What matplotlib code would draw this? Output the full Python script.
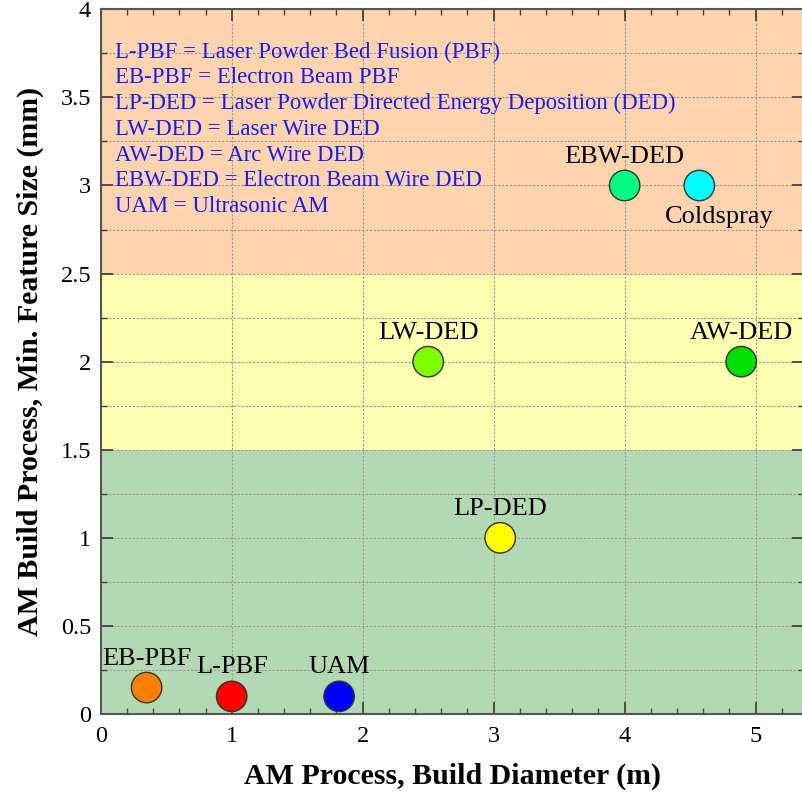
import matplotlib.pyplot as plt
from matplotlib.ticker import MultipleLocator

plt.rcParams['font.family'] = ['Liberation Serif', 'DejaVu Serif']

# process data: build diameter (m) vs minimum feature size (mm)
processes = ['EB-PBF', 'L-PBF', 'UAM', 'LP-DED', 'LW-DED', 'AW-DED', 'EBW-DED', 'Coldspray']
diameter = [0.35, 1.0, 1.82, 3.05, 2.5, 4.89, 4.0, 4.57]
feature = [0.15, 0.1, 0.1, 1.0, 2.0, 2.0, 3.0, 3.0]
colors = ['#ff8000', '#ff0000', '#0000ff', '#ffff00', '#80ff00', '#00e000', '#00ff80', '#00ffff']

# label offsets in points (dx, dy) to the text baseline
label_offsets = [(0, 16.5), (0, 16.5), (0, 16.5), (0, 16.5), (0, 16.5), (0, 16.5), (0, 16.5), (14.5, -27)]

# shaded bands of feature size
bands = [(0, 1.5, '#b3d9b3'), (1.5, 2.5, '#ffffb0'), (2.5, 4.0, '#fdd4ac')]

abbrevs = [
    'L-PBF = Laser Powder Bed Fusion (PBF)',
    'EB-PBF = Electron Beam PBF',
    'LP-DED = Laser Powder Directed Energy Deposition (DED)',
    'LW-DED = Laser Wire DED',
    'AW-DED = Arc Wire DED',
    'EBW-DED = Electron Beam Wire DED',
    'UAM = Ultrasonic AM',
]

fig = plt.figure(figsize=(8.02, 7.98), dpi=100)
ax = fig.add_axes([0.1256, 0.1053, 0.877, 0.883])

for lo, hi, c in bands:
    ax.axhspan(lo, hi, color=c, zorder=0, lw=0)

ax.set_xlim(0, 5.37)
ax.set_ylim(0, 4)
ax.xaxis.set_major_locator(MultipleLocator(1))
ax.xaxis.set_minor_locator(MultipleLocator(0.2))
ax.yaxis.set_minor_locator(MultipleLocator(0.25))
ax.set_yticks([0, 0.5, 1, 1.5, 2, 2.5, 3, 3.5, 4])
ax.set_yticklabels(['0', '0.5', '1', '1.5', '2', '2.5', '3', '3.5', '4'])

ax.grid(True, which='major', axis='x', ls=(0, (2, 1.5)), color='#9a9a9a', lw=0.8)
ax.grid(True, which='both', axis='y', ls=(0, (2, 1.5)), color='#9a9a9a', lw=0.8)
ax.set_axisbelow(True)

ax.tick_params(which='both', direction='in', top=True, right=True, labelsize=17.5,
               color='#444444')
ax.tick_params(which='major', length=8.5, width=1.3)
ax.tick_params(which='minor', length=4.5, width=1)
ax.tick_params(axis='x', pad=9)
ax.tick_params(axis='y', pad=7)
for s in ax.spines.values():
    s.set_linewidth(1.5)
    s.set_color('#555555')

ax.scatter(diameter, feature, s=480, c=colors, edgecolors='#333333', linewidths=1, zorder=3, clip_on=False)

for name, x, y, (dx, dy) in zip(processes, diameter, feature, label_offsets):
    ax.annotate(name, (x, y), xytext=(dx, dy), textcoords='offset points',
                ha='center', va='baseline', fontsize=19, zorder=4)

# abbreviation key, one line at a time
for i, line in enumerate(abbrevs):
    ax.text(0.0203, 0.9313 - i * 0.03647, line, transform=ax.transAxes, color='#1a1aff',
            fontsize=16.4, va='baseline', ha='left')

ax.set_xlabel('AM Process, Build Diameter (m)', fontsize=21.5, fontweight='bold')
ax.set_ylabel('AM Build Process, Min. Feature Size (mm)', fontsize=21.5, fontweight='bold')
ax.xaxis.set_label_coords(0.5, -0.0695)
ax.yaxis.set_label_coords(-0.0813, 0.5)

fig.savefig('out.png', dpi=100)
